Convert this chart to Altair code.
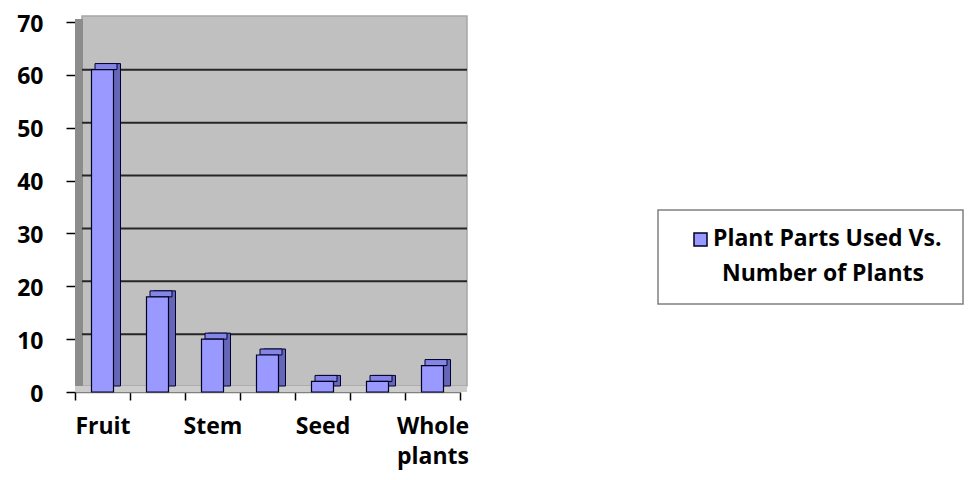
import altair as alt
import pandas as pd

categories = ["Fruit", "Leaves", "Stem", "Root", "Seed", "Flower", "Whole plants"]
values = [61, 18, 10, 7, 2, 2, 5]
shown_labels = ["Fruit", "Stem", "Seed", "Whole plants"]
y_ticks = [0, 10, 20, 30, 40, 50, 60, 70]
grid_values = [10, 20, 30, 40, 50, 60]
legend_lines = ["Plant Parts Used Vs.", "Number of Plants"]

FONT = "Open Sans"
W, H = 385, 370
DX, DY = 7, -6

df = pd.DataFrame({"cat": categories, "val": values})
grid_df = pd.DataFrame({"g": grid_values})
one = pd.DataFrame({"k": [0]})

xenc = alt.X("cat:N", sort=categories, title=None,
             scale=alt.Scale(paddingInner=0, paddingOuter=0),
             axis=alt.Axis(
                 labelExpr="indexof(%s, datum.value) >= 0 ? (datum.value == 'Whole plants' ? ['Whole', 'plants'] : datum.value) : ''" % str(shown_labels),
                 labelAngle=0, labelFont=FONT, labelFontSize=23, labelFontWeight="bold",
                 labelColor="#000000", labelPadding=15, labelLineHeight=30,
                 labelOverlap=False, tickBand="extent", tickSize=8, tickColor="#000000",
                 tickWidth=1.5, domainColor="#808080", domainWidth=1.5))
yscale = alt.Scale(domain=[0, 70], nice=False)

base = alt.Chart(df)

# back wall
wall = alt.Chart(one).mark_rect(fill="#c0c0c0", stroke="#a6a6a6", strokeWidth=1.5,
                                yOffset=DY, y2Offset=DY).encode(
    x=alt.value(DX), x2=alt.value(W + DX),
    y=alt.datum(70, scale=yscale), y2=alt.datum(0))
# left side wall
side = alt.Chart(one).mark_rect(fill="#8c8c8c", yOffset=-3, y2Offset=-3).encode(
    x=alt.value(0), x2=alt.value(DX + 1),
    y=alt.datum(70), y2=alt.datum(0))
# floor
floor = alt.Chart(one).mark_rect(fill="#cccccc", yOffset=DY).encode(
    x=alt.value(0), x2=alt.value(W + DX),
    y=alt.datum(0), y2=alt.datum(0))

grid = alt.Chart(grid_df).mark_rule(color="#262626", strokeWidth=2, yOffset=-5).encode(
    x=alt.value(DX), x2=alt.value(W + DX), y=alt.Y("g:Q"))

bar_side = base.mark_bar(size=22, color="#6666b8", stroke="#000033", strokeWidth=1,
                         xOffset=DX, yOffset=DY, y2Offset=DY).encode(
    x=xenc, y=alt.Y("val:Q"), y2=alt.datum(0))
bar_top = base.mark_bar(size=22, color="#8585e6", stroke="#000033", strokeWidth=1,
                        xOffset=DX / 2, yOffset=DY).encode(
    x=xenc, y=alt.Y("val:Q"), y2=alt.Y2("val:Q"))
bar_front = base.mark_bar(size=22, color="#9999ff", stroke="#000022", strokeWidth=1.2).encode(
    x=xenc,
    y=alt.Y("val:Q", title=None, scale=yscale,
            axis=alt.Axis(values=y_ticks, labelFont=FONT, labelFontSize=23,
                          labelFontWeight="bold", labelColor="#000000", labelPadding=23,
                          labelOffset=2, tickSize=9, tickColor="#000000", tickWidth=1.5,
                          domain=False, grid=False)))

# legend
lx0, lx1, ly0, ly1 = 583, 888, 188, 282
leg_box = alt.Chart(one).mark_rect(fill="white", stroke="#808080", strokeWidth=1.5).encode(
    x=alt.value(lx0), x2=alt.value(lx1), y=alt.value(ly0), y2=alt.value(ly1))
leg_sym = alt.Chart(one).mark_rect(fill="#9999ff", stroke="#000022", strokeWidth=1.5).encode(
    x=alt.value(619), x2=alt.value(632), y=alt.value(211), y2=alt.value(224))
leg_t1 = alt.Chart(pd.DataFrame({"t": [legend_lines[0]]})).mark_text(
    font=FONT, fontSize=23, fontWeight="bold", align="left", baseline="alphabetic",
    color="#000000").encode(x=alt.value(638), y=alt.value(224), text="t:N")
leg_t2 = alt.Chart(pd.DataFrame({"t": [legend_lines[1]]})).mark_text(
    font=FONT, fontSize=23, fontWeight="bold", align="center", baseline="alphabetic",
    color="#000000").encode(x=alt.value(748), y=alt.value(259), text="t:N")

chart = alt.layer(
    wall, side, floor, grid, bar_side, bar_top, bar_front,
    leg_box, leg_sym, leg_t1, leg_t2
).properties(
    width=W, height=H,
    autosize=alt.AutoSizeParams(type="none"),
    padding={"left": 67, "top": 14, "right": 504, "bottom": 80},
).configure_view(stroke=None).configure(background="white")

chart.save("out.html", embed_options={"renderer": "svg", "actions": False})
